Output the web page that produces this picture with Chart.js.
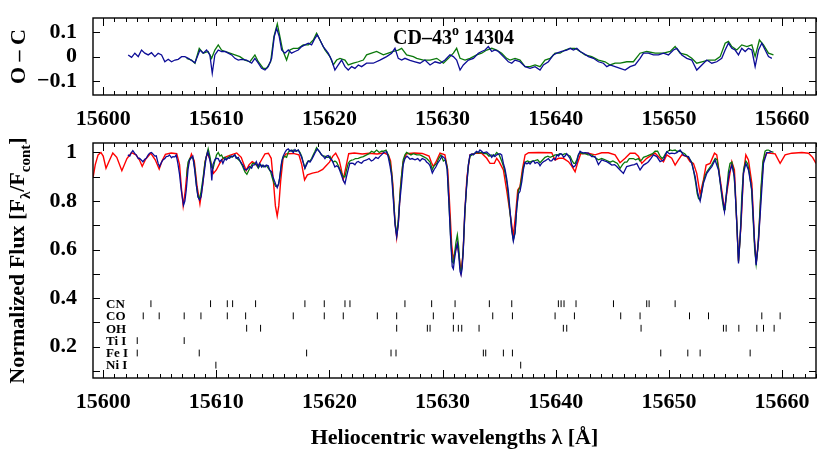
<!DOCTYPE html>
<html><head><meta charset="utf-8">
<script src="https://cdn.jsdelivr.net/npm/chart.js@4"></script>
<style>
html,body{margin:0;padding:0;background:#fff;}
#wrap{position:relative;width:830px;height:464px;overflow:hidden;}
canvas{position:absolute;left:0;}
</style></head><body>
<div id="wrap">
<canvas id="topChart" width="830" height="128" style="top:0"></canvas>
<canvas id="botChart" width="830" height="336" style="top:128px"></canvas>
</div>
<script>
// ---------------- data ----------------
const xTickValues = [15600, 15610, 15620, 15630, 15640, 15650, 15660];
const ocTickValues = [-0.1, 0, 0.1];
const fluxTickValues = [0.2, 0.4, 0.6, 0.8, 1.0];
const fluxMinorValues = [0.1, 0.2, 0.3, 0.4, 0.5, 0.6, 0.7, 0.8, 0.9, 1.0];

// synthetic model spectrum (red)  [wavelength, flux]
const modelSpectrum = [[15599.1,0.895],[15599.3,0.95],[15599.55,0.99],[15599.8,1.0],[15600.0,0.985],[15600.25,0.935],[15600.5,0.962],[15600.85,0.998],[15601.2,0.98],[15601.65,0.925],[15602.1,0.975],[15602.5,0.999],[15602.9,0.99],[15603.2,0.97],[15603.45,0.943],[15603.75,0.972],[15604.2,0.997],[15604.6,0.97],[15604.95,0.932],[15605.2,0.965],[15605.5,0.992],[15606.0,0.998],[15606.5,0.995],[15606.75,0.95],[15606.9,0.86],[15607.07,0.78],[15607.25,0.84],[15607.45,0.94],[15607.8,0.993],[15608.05,0.965],[15608.3,0.86],[15608.55,0.788],[15608.8,0.87],[15609.0,0.96],[15609.2,0.997],[15609.45,0.97],[15609.75,0.914],[15610.0,0.928],[15610.3,0.955],[15610.6,0.976],[15610.9,0.983],[15611.3,0.99],[15611.8,0.998],[15612.2,0.98],[15612.4,0.955],[15612.64,0.926],[15612.9,0.95],[15613.17,0.962],[15613.4,0.955],[15613.67,0.942],[15614.0,0.97],[15614.3,0.994],[15614.6,0.997],[15614.85,0.976],[15615.06,0.873],[15615.22,0.78],[15615.38,0.738],[15615.52,0.78],[15615.68,0.88],[15615.9,0.976],[15616.15,0.994],[15616.8,0.996],[15617.3,0.99],[15617.55,0.95],[15617.8,0.887],[15618.05,0.908],[15618.5,0.915],[15619.0,0.92],[15619.4,0.93],[15619.7,0.945],[15620.0,0.96],[15620.3,0.985],[15620.55,0.997],[15620.85,0.97],[15621.0,0.94],[15621.22,0.889],[15621.45,0.94],[15621.7,0.995],[15622.2,0.998],[15622.9,0.994],[15623.5,0.997],[15624.2,0.994],[15624.8,0.998],[15625.2,0.99],[15625.4,0.965],[15625.6,0.87],[15625.78,0.72],[15625.94,0.65],[15626.1,0.72],[15626.28,0.86],[15626.5,0.96],[15626.8,0.995],[15627.5,0.998],[15628.2,0.996],[15628.8,0.985],[15629.0,0.96],[15629.18,0.942],[15629.4,0.96],[15629.77,0.997],[15630.2,0.99],[15630.45,0.93],[15630.65,0.76],[15630.8,0.62],[15630.95,0.557],[15631.1,0.59],[15631.3,0.625],[15631.45,0.575],[15631.63,0.509],[15631.8,0.58],[15631.97,0.76],[15632.15,0.9],[15632.42,0.99],[15633.0,0.997],[15633.45,0.997],[15633.9,0.976],[15634.19,0.955],[15634.57,0.955],[15634.78,0.976],[15634.99,0.962],[15635.37,0.928],[15635.66,0.845],[15635.96,0.75],[15636.25,0.656],[15636.46,0.75],[15636.64,0.845],[15636.84,0.859],[15637.05,0.93],[15637.29,0.99],[15637.6,0.999],[15638.5,1.0],[15639.64,0.999],[15639.94,0.969],[15640.25,0.976],[15640.67,0.976],[15641.12,0.962],[15641.4,0.945],[15641.71,0.921],[15641.95,0.96],[15642.2,0.995],[15642.88,0.997],[15643.47,0.99],[15644.06,0.999],[15644.65,0.999],[15645.24,0.99],[15645.68,0.958],[15646.13,0.976],[15646.57,0.997],[15647.01,0.997],[15647.3,0.985],[15647.6,0.955],[15648.04,0.976],[15648.5,0.99],[15648.78,0.997],[15649.22,0.976],[15649.52,0.962],[15649.81,0.99],[15650.25,0.976],[15650.55,0.948],[15650.84,0.969],[15651.14,0.99],[15651.58,0.983],[15651.87,0.962],[15652.17,0.955],[15652.46,0.914],[15652.76,0.828],[15653.05,0.887],[15653.29,0.948],[15653.64,0.955],[15654.03,0.997],[15654.23,0.99],[15654.5,0.9],[15654.67,0.845],[15654.91,0.765],[15655.2,0.859],[15655.56,0.962],[15655.79,0.928],[15656.0,0.708],[15656.15,0.554],[15656.38,0.708],[15656.59,0.914],[15656.8,0.99],[15657.03,0.969],[15657.33,0.873],[15657.56,0.639],[15657.71,0.543],[15657.92,0.639],[15658.15,0.845],[15658.36,0.969],[15658.65,0.999],[15659.39,0.994],[15659.83,0.955],[15660.27,0.99],[15660.86,0.997],[15661.75,1.0],[15662.34,0.997],[15662.7,0.98],[15663.0,0.955]];

// observed spectrum 1 (blue)
const observedBlue = [[15602.18,0.990],[15602.35,0.985],[15602.48,0.999],[15602.62,1.008],[15602.80,0.995],[15602.92,0.990],[15603.10,0.975],[15603.21,0.976],[15603.39,0.968],[15603.51,0.962],[15603.68,0.972],[15603.80,0.976],[15603.98,0.99],[15604.10,0.997],[15604.27,1.0],[15604.39,0.994],[15604.57,0.985],[15604.69,0.986],[15604.86,0.955],[15604.98,0.942],[15605.16,0.96],[15605.28,0.969],[15605.45,0.975],[15605.57,0.983],[15605.75,0.985],[15605.86,0.990],[15606.04,0.978],[15606.16,0.983],[15606.34,0.982],[15606.45,0.99],[15606.60,0.955],[15606.75,0.91],[15606.90,0.845],[15607.10,0.783],[15607.22,0.80],[15607.34,0.845],[15607.50,0.93],[15607.63,0.969],[15607.81,0.98],[15607.92,0.985],[15608.08,0.93],[15608.22,0.87],[15608.37,0.818],[15608.52,0.804],[15608.66,0.818],[15608.80,0.87],[15608.96,0.928],[15609.10,0.98],[15609.25,1.003],[15609.40,0.975],[15609.50,0.95],[15609.60,0.885],[15609.70,0.95],[15609.87,0.97],[15609.99,0.976],[15610.17,0.975],[15610.29,0.962],[15610.46,0.97],[15610.58,0.955],[15610.76,0.975],[15610.88,0.969],[15611.05,0.978],[15611.17,0.976],[15611.35,0.985],[15611.46,0.983],[15611.64,0.99],[15611.76,0.976],[15611.94,0.98],[15612.05,0.969],[15612.23,0.955],[15612.35,0.948],[15612.50,0.93],[15612.64,0.928],[15612.80,0.935],[15612.94,0.942],[15613.12,0.935],[15613.23,0.948],[15613.41,0.95],[15613.53,0.962],[15613.71,0.94],[15613.82,0.955],[15614.00,0.94],[15614.12,0.948],[15614.30,0.94],[15614.41,0.948],[15614.59,0.945],[15614.71,0.928],[15614.89,0.92],[15615.00,0.900],[15615.12,0.885],[15615.24,0.870],[15615.38,0.855],[15615.50,0.87],[15615.59,0.893],[15615.77,0.96],[15615.89,0.983],[15616.06,1.0],[15616.20,1.01],[15616.36,1.015],[15616.50,1.005],[15616.65,1.01],[15616.80,1.0],[15616.95,1.012],[15617.10,1.005],[15617.24,1.01],[15617.40,0.995],[15617.54,0.98],[15617.70,0.955],[15617.83,0.935],[15617.98,0.95],[15618.13,0.965],[15618.28,0.96],[15618.42,0.97],[15618.58,0.985],[15618.72,0.998],[15618.92,1.015],[15619.05,1.008],[15619.16,1.0],[15619.30,0.99],[15619.45,0.985],[15619.60,0.975],[15619.75,0.985],[15619.89,0.987],[15620.05,0.975],[15620.19,0.97],[15620.35,0.955],[15620.48,0.94],[15620.62,0.945],[15620.78,0.94],[15620.92,0.925],[15621.07,0.905],[15621.22,0.885],[15621.37,0.872],[15621.50,0.90],[15621.66,0.93],[15621.80,0.955],[15621.96,0.956],[15622.10,0.955],[15622.25,0.949],[15622.40,0.96],[15622.55,0.963],[15622.70,0.958],[15622.84,0.956],[15623.00,0.965],[15623.28,0.969],[15623.50,0.975],[15623.70,0.965],[15623.87,0.969],[15624.10,0.98],[15624.30,0.975],[15624.46,0.984],[15624.60,0.99],[15624.80,1.0],[15625.05,1.003],[15625.20,0.98],[15625.35,0.945],[15625.50,0.90],[15625.65,0.80],[15625.80,0.70],[15625.94,0.653],[15626.08,0.70],[15626.20,0.79],[15626.38,0.876],[15626.52,0.95],[15626.67,0.975],[15626.85,0.985],[15627.00,0.978],[15627.12,0.972],[15627.30,0.975],[15627.56,0.97],[15627.80,0.975],[15628.00,0.965],[15628.20,0.975],[15628.44,0.97],[15628.60,0.96],[15628.75,0.955],[15628.89,0.945],[15629.09,0.915],[15629.25,0.93],[15629.40,0.94],[15629.55,0.955],[15629.77,0.97],[15629.95,0.985],[15630.21,0.975],[15630.40,0.93],[15630.55,0.8],[15630.70,0.65],[15630.85,0.53],[15630.95,0.52],[15631.05,0.56],[15631.18,0.6],[15631.30,0.625],[15631.42,0.58],[15631.54,0.51],[15631.63,0.495],[15631.72,0.52],[15631.83,0.6],[15631.95,0.75],[15632.10,0.85],[15632.28,0.95],[15632.42,0.99],[15632.60,0.995],[15632.72,0.99],[15632.90,1.0],[15633.00,1.005],[15633.16,1.0],[15633.30,1.01],[15633.45,1.005],[15633.60,0.998],[15633.75,1.0],[15633.90,1.002],[15634.04,0.996],[15634.20,0.99],[15634.34,0.98],[15634.50,0.99],[15634.63,0.983],[15634.78,0.99],[15634.93,0.993],[15635.07,0.995],[15635.22,0.99],[15635.37,0.955],[15635.52,0.93],[15635.67,0.89],[15635.81,0.84],[15635.96,0.76],[15636.11,0.68],[15636.25,0.635],[15636.40,0.67],[15636.55,0.77],[15636.70,0.83],[15636.84,0.84],[15637.00,0.88],[15637.14,0.93],[15637.29,0.96],[15637.45,0.953],[15637.60,0.958],[15637.73,0.952],[15637.90,0.962],[15638.05,0.965],[15638.17,0.955],[15638.35,0.96],[15638.50,0.955],[15638.61,0.945],[15638.75,0.955],[15638.91,0.962],[15639.05,0.965],[15639.20,0.97],[15639.35,0.975],[15639.50,0.965],[15639.64,0.965],[15639.79,0.975],[15639.95,0.97],[15640.09,0.99],[15640.25,0.985],[15640.38,0.995],[15640.53,0.993],[15640.70,0.98],[15640.82,0.985],[15640.97,0.995],[15641.12,0.985],[15641.27,0.975],[15641.42,0.95],[15641.56,0.94],[15641.71,0.945],[15641.86,0.96],[15642.00,0.99],[15642.15,1.005],[15642.30,1.0],[15642.44,0.998],[15642.59,0.999],[15642.88,0.997],[15643.18,0.983],[15643.47,0.983],[15643.77,0.95],[15644.06,0.969],[15644.30,0.965],[15644.50,0.962],[15644.75,0.955],[15644.95,0.948],[15645.20,0.95],[15645.39,0.942],[15645.68,0.928],[15645.98,0.914],[15646.27,0.942],[15646.50,0.945],[15646.72,0.948],[15646.95,0.95],[15647.16,0.955],[15647.45,0.928],[15647.75,0.948],[15648.00,0.955],[15648.19,0.962],[15648.40,0.975],[15648.63,0.99],[15648.93,0.983],[15649.22,0.962],[15649.52,0.969],[15649.81,1.003],[15650.05,0.995],[15650.25,0.997],[15650.50,0.995],[15650.70,0.999],[15650.99,1.01],[15651.28,0.99],[15651.50,0.985],[15651.73,0.983],[15652.02,0.955],[15652.32,0.9],[15652.55,0.832],[15652.76,0.80],[15653.05,0.873],[15653.35,0.914],[15653.60,0.93],[15653.79,0.942],[15654.08,0.969],[15654.38,0.928],[15654.67,0.832],[15654.91,0.756],[15655.12,0.845],[15655.32,0.914],[15655.56,0.948],[15655.79,0.9],[15656.00,0.708],[15656.15,0.543],[15656.35,0.694],[15656.59,0.914],[15656.80,0.955],[15657.03,0.928],[15657.33,0.845],[15657.56,0.639],[15657.71,0.536],[15657.92,0.639],[15658.15,0.804],[15658.36,0.955],[15658.65,0.999],[15658.85,1.0],[15659.09,1.003]];

// observed spectrum 2 (green)
const observedGreen = [[15607.37,0.90],[15607.50,0.96],[15607.65,0.975],[15607.81,0.98],[15607.95,0.975],[15608.11,0.93],[15608.25,0.86],[15608.40,0.815],[15608.49,0.81],[15608.62,0.83],[15608.84,0.9],[15609.00,0.96],[15609.15,0.99],[15609.28,1.015],[15609.45,0.98],[15609.58,0.94],[15609.72,0.935],[15609.87,0.965],[15610.02,0.99],[15610.17,1.0],[15610.32,0.985],[15610.46,0.99],[15610.61,0.975],[15610.76,0.98],[15610.95,0.975],[15611.20,0.985],[15611.40,0.98],[15611.64,0.99],[15611.85,0.975],[15612.08,0.965],[15612.30,0.945],[15612.53,0.92],[15612.70,0.91],[15612.85,0.925],[15612.97,0.935],[15613.20,0.955],[15613.41,0.955],[15613.55,0.95],[15613.71,0.935],[15613.90,0.95],[15614.15,0.94],[15614.30,0.945],[15614.44,0.945],[15614.60,0.935],[15614.80,0.92],[15614.95,0.895],[15615.09,0.875],[15615.25,0.86],[15615.39,0.86],[15615.50,0.87],[15615.62,0.9],[15615.75,0.95],[15615.86,0.975],[15616.00,0.985],[15616.21,0.98],[15616.35,1.0],[15616.50,1.01],[15616.65,1.005],[15616.80,1.01],[15617.00,1.005],[15617.24,1.01],[15617.40,1.0],[15617.54,0.985],[15617.68,0.96],[15617.83,0.935],[15617.98,0.955],[15618.13,0.965],[15618.28,0.965],[15618.42,0.975],[15618.57,0.99],[15618.72,1.005],[15618.86,1.02],[15619.00,1.01],[15619.16,1.0],[15619.30,0.99],[15619.45,0.985],[15619.60,0.985],[15619.75,0.98],[15619.89,0.98],[15620.04,0.985],[15620.19,0.97],[15620.34,0.96],[15620.48,0.965],[15620.63,0.96],[15620.78,0.945],[15620.93,0.93],[15621.07,0.915],[15621.22,0.9],[15621.37,0.9],[15621.52,0.93],[15621.66,0.955],[15621.81,0.965],[15621.96,0.968],[15622.11,0.97],[15622.30,0.975],[15622.55,0.976],[15622.75,0.98],[15622.99,0.983],[15623.28,0.99],[15623.50,0.995],[15623.72,1.005],[15623.95,1.0],[15624.17,1.01],[15624.40,1.0],[15624.60,1.005],[15624.76,1.005],[15625.00,1.01],[15625.20,0.99],[15625.35,0.96],[15625.50,0.915],[15625.65,0.82],[15625.80,0.71],[15625.94,0.66],[15626.08,0.72],[15626.22,0.82],[15626.38,0.91],[15626.52,0.97],[15626.67,0.99],[15626.82,1.0],[15627.00,0.995],[15627.20,0.99],[15627.41,0.995],[15627.71,0.99],[15628.00,0.99],[15628.30,0.983],[15628.60,0.975],[15628.89,0.96],[15629.09,0.93],[15629.25,0.945],[15629.48,0.955],[15629.65,0.975],[15629.85,0.99],[15630.07,0.965],[15630.25,0.97],[15630.40,0.94],[15630.55,0.8],[15630.70,0.66],[15630.85,0.55],[15630.95,0.545],[15631.05,0.58],[15631.18,0.63],[15631.30,0.66],[15631.42,0.61],[15631.54,0.525],[15631.63,0.51],[15631.72,0.53],[15631.83,0.61],[15631.98,0.76],[15632.12,0.86],[15632.28,0.95],[15632.42,0.985],[15632.60,0.99],[15632.80,0.995],[15633.01,1.0],[15633.20,0.998],[15633.45,1.0],[15633.65,0.995],[15633.90,0.995],[15634.10,0.985],[15634.34,0.99],[15634.55,0.985],[15634.78,1.0],[15635.00,0.99],[15635.22,0.965],[15635.40,0.94],[15635.55,0.91],[15635.70,0.87],[15635.85,0.8],[15635.96,0.75],[15636.11,0.68],[15636.25,0.64],[15636.40,0.67],[15636.55,0.77],[15636.70,0.845],[15636.84,0.855],[15637.00,0.9],[15637.14,0.94],[15637.29,0.96],[15637.50,0.965],[15637.73,0.96],[15637.95,0.965],[15638.17,0.966],[15638.40,0.97],[15638.61,0.958],[15638.85,0.97],[15639.05,0.98],[15639.30,0.985],[15639.50,0.98],[15639.75,0.985],[15639.94,0.99],[15640.15,0.99],[15640.38,0.995],[15640.60,0.99],[15640.82,0.995],[15641.05,0.99],[15641.27,0.985],[15641.45,0.965],[15641.60,0.955],[15641.71,0.955],[15641.86,0.97],[15642.00,0.99],[15642.15,1.0],[15642.35,0.995],[15642.59,0.995],[15642.85,0.99],[15643.18,0.99],[15643.45,0.98],[15643.77,0.97],[15644.06,0.975],[15644.36,0.97],[15644.60,0.965],[15644.80,0.96],[15645.05,0.965],[15645.24,0.96],[15645.45,0.955],[15645.69,0.935],[15645.90,0.95],[15646.10,0.96],[15646.28,0.96],[15646.50,0.975],[15646.70,0.975],[15646.86,0.975],[15647.05,0.97],[15647.30,0.975],[15647.45,0.965],[15647.60,0.97],[15647.75,0.98],[15648.04,0.985],[15648.30,0.99],[15648.55,0.995],[15648.78,1.005],[15649.00,1.005],[15649.22,0.985],[15649.40,0.975],[15649.52,0.98],[15649.70,0.995],[15649.90,1.005],[15650.11,1.01],[15650.30,1.008],[15650.55,1.01],[15650.70,1.005],[15650.99,1.005],[15651.20,1.0],[15651.40,0.995],[15651.58,0.985],[15651.80,0.975],[15652.02,0.96],[15652.20,0.92],[15652.35,0.88],[15652.50,0.83],[15652.62,0.81],[15652.76,0.805],[15652.90,0.84],[15653.05,0.88],[15653.20,0.905],[15653.35,0.92],[15653.50,0.93],[15653.79,0.95],[15654.09,0.975],[15654.25,0.97],[15654.40,0.93],[15654.55,0.87],[15654.70,0.81],[15654.85,0.765],[15654.97,0.765],[15655.10,0.84],[15655.26,0.92],[15655.40,0.955],[15655.56,0.96],[15655.70,0.93],[15655.85,0.85],[15656.00,0.71],[15656.15,0.55],[15656.30,0.65],[15656.44,0.82],[15656.60,0.93],[15656.80,0.965],[15656.95,0.955],[15657.10,0.92],[15657.30,0.85],[15657.45,0.72],[15657.58,0.6],[15657.71,0.54],[15657.85,0.6],[15658.00,0.72],[15658.15,0.86],[15658.30,0.96],[15658.50,1.005],[15658.65,1.01],[15658.80,1.01],[15659.00,1.005],[15659.24,1.0]];

// observed minus computed residuals
const residualBlue = [[15602.21,0.007],[15602.51,-0.003],[15602.80,0.014],[15603.10,0],[15603.39,0.027],[15603.68,0.014],[15603.98,0.007],[15604.27,0.016],[15604.57,0],[15604.86,0.014],[15605.16,0.007],[15605.45,-0.021],[15605.75,-0.011],[15606.04,-0.021],[15606.34,-0.014],[15606.63,-0.011],[15606.93,0],[15607.22,0],[15607.52,-0.007],[15607.81,-0.016],[15608.11,-0.025],[15608.55,0.027],[15608.84,0.014],[15609.14,0.027],[15609.43,0.007],[15609.64,-0.068],[15609.87,0.007],[15610.17,0.027],[15610.46,0.021],[15610.76,0.021],[15611.05,0.014],[15611.35,0.007],[15611.64,-0.007],[15611.94,-0.014],[15612.23,-0.011],[15612.67,-0.014],[15613.12,-0.027],[15613.41,-0.007],[15613.71,-0.027],[15614.00,-0.048],[15614.30,-0.055],[15614.59,-0.041],[15614.89,-0.007],[15615.12,0.082],[15615.33,0.116],[15615.56,0.082],[15615.77,0.027],[15616.06,0.014],[15616.36,0.027],[15616.65,0.014],[15616.95,0.021],[15617.24,0.027],[15617.54,0.041],[15617.83,0.048],[15618.13,0.055],[15618.42,0.048],[15618.72,0.075],[15618.92,0.089],[15619.16,0.068],[15619.45,0.041],[15619.89,0.014],[15620.19,-0.014],[15620.48,-0.055],[15620.78,-0.034],[15621.07,-0.014],[15621.37,-0.041],[15621.66,-0.055],[15621.96,-0.041],[15622.25,-0.048],[15622.55,-0.034],[15622.84,-0.041],[15623.28,-0.027],[15623.87,-0.027],[15624.46,-0.014],[15625.05,0],[15625.49,0.014],[15625.79,0.034],[15626.08,-0.007],[15626.38,-0.014],[15626.67,-0.007],[15627.12,-0.015],[15627.56,-0.021],[15628.00,-0.027],[15628.44,-0.014],[15628.89,-0.034],[15629.33,-0.021],[15629.77,-0.027],[15630.21,-0.014],[15630.65,0.007],[15630.95,0],[15631.24,-0.014],[15631.54,-0.055],[15631.83,-0.034],[15632.28,-0.014],[15632.72,-0.007],[15633.16,0.014],[15633.45,0.021],[15633.75,0.027],[15634.04,0.041],[15634.34,0.021],[15634.63,0.027],[15634.93,0.021],[15635.37,0],[15635.81,-0.021],[15636.11,-0.027],[15636.40,-0.014],[15636.84,-0.021],[15637.29,-0.041],[15637.73,-0.048],[15638.17,-0.041],[15638.61,-0.055],[15638.91,-0.034],[15639.35,-0.021],[15639.79,0.007],[15640.09,0.014],[15640.53,0.021],[15640.97,0.027],[15641.27,0.034],[15641.56,0.027],[15641.86,0.034],[15642.15,0.021],[15642.44,0.014],[15642.89,0],[15643.33,-0.007],[15643.77,-0.021],[15644.21,-0.027],[15644.51,-0.041],[15644.80,-0.034],[15645.24,-0.041],[15645.69,-0.048],[15646.13,-0.055],[15646.57,-0.041],[15647.01,-0.034],[15647.45,-0.007],[15647.75,0.014],[15648.19,0.014],[15648.63,0.007],[15649.08,0.007],[15649.52,0.014],[15649.96,0.007],[15650.40,0.027],[15650.70,0.034],[15651.14,0.007],[15651.58,-0.007],[15652.02,-0.014],[15652.46,-0.055],[15652.91,-0.034],[15653.35,-0.014],[15653.79,-0.027],[15654.23,-0.021],[15654.67,-0.007],[15654.97,0.027],[15655.26,0.055],[15655.56,0.034],[15655.85,0.027],[15656.15,0.007],[15656.44,0.034],[15656.74,0.021],[15657.03,0.034],[15657.33,0.027],[15657.62,-0.041],[15657.92,0.027],[15658.21,0.055],[15658.51,0.027],[15658.80,0],[15659.10,-0.007]];

const residualGreen = [[15607.37,-0.007],[15607.81,-0.014],[15608.11,-0.027],[15608.49,0.034],[15608.84,0.014],[15609.28,0.021],[15609.58,-0.007],[15609.87,0.027],[15610.17,0.048],[15610.46,0.027],[15610.76,0.021],[15611.20,0.014],[15611.64,0.007],[15612.08,0],[15612.53,-0.014],[15612.97,-0.021],[15613.41,0.007],[15613.71,-0.021],[15614.15,-0.048],[15614.44,-0.048],[15614.80,-0.021],[15615.09,0.082],[15615.39,0.134],[15615.62,0.082],[15615.86,0.027],[15616.21,-0.014],[15616.50,0.027],[15616.80,0.034],[15617.24,0.034],[15617.68,0.048],[15618.13,0.048],[15618.57,0.068],[15618.86,0.096],[15619.16,0.068],[15619.60,0.027],[15620.04,0],[15620.34,-0.034],[15620.63,-0.014],[15620.93,-0.007],[15621.37,-0.014],[15621.66,-0.034],[15622.11,-0.027],[15622.55,-0.021],[15622.99,-0.014],[15623.28,0.007],[15623.72,0.014],[15624.17,0.021],[15624.76,0.007],[15625.20,0.014],[15625.64,0.021],[15626.08,0.027],[15626.38,0.034],[15626.82,0.007],[15627.41,0],[15627.71,-0.007],[15628.30,-0.014],[15628.89,-0.014],[15629.48,-0.007],[15630.07,-0.027],[15630.51,-0.007],[15630.95,0.014],[15631.24,0.034],[15631.54,-0.007],[15631.98,-0.014],[15632.42,-0.007],[15633.01,0.007],[15633.45,0.014],[15633.90,0.027],[15634.34,0.034],[15634.78,0.027],[15635.22,0.014],[15635.66,-0.007],[15635.96,-0.014],[15636.40,-0.007],[15636.84,-0.014],[15637.29,-0.041],[15637.73,-0.041],[15638.17,-0.034],[15638.61,-0.041],[15639.05,-0.014],[15639.50,-0.007],[15639.94,0.014],[15640.38,0.014],[15640.82,0.027],[15641.27,0.034],[15641.71,0.034],[15642.15,0.021],[15642.59,0.007],[15643.18,0],[15643.77,-0.014],[15644.36,-0.021],[15644.80,-0.034],[15645.24,-0.027],[15645.69,-0.027],[15646.28,-0.021],[15646.86,-0.021],[15647.45,0.014],[15648.04,0.021],[15648.78,0.014],[15649.52,0.014],[15650.11,0.021],[15650.55,0.041],[15650.99,0.014],[15651.58,0.007],[15652.02,-0.007],[15652.46,-0.027],[15652.91,-0.021],[15653.50,-0.014],[15654.09,-0.014],[15654.53,0],[15654.97,0.055],[15655.26,0.062],[15655.56,0.041],[15656.00,0.027],[15656.44,0.048],[15656.89,0.041],[15657.33,0.048],[15657.62,0],[15658.00,0.068],[15658.36,0.048],[15658.80,0.014],[15659.24,0.007]];

// line identifications
const speciesNames = ['CN', 'CO', 'OH', 'Ti I', 'Fe I', 'Ni I'];
const speciesLevels = [0.377, 0.327, 0.276, 0.225, 0.174, 0.124];
const cnLines = [15604.22,15609.49,15610.97,15611.44,15613.47,15617.83,15619.54,15621.37,15621.81,15626.67,15629.03,15631.1,15634.13,15636.11,15640.23,15640.47,15640.73,15641.79,15645.10,15648.04,15648.25,15650.55];
const coLines = [15603.54,15604.95,15607.16,15608.64,15610.97,15612.59,15616.80,15619.54,15621.22,15624.23,15625.94,15629.18,15630.95,15634.43,15636.17,15639.94,15641.65,15645.74,15647.45,15651.82,15653.50,15658.21,15659.83];
const ohLines = [15612.68,15613.91,15625.94,15628.65,15628.89,15630.95,15631.39,15631.69,15633.22,15640.67,15640.97,15647.54,15654.82,15655.06,15656.18,15657.77,15658.36,15659.30];
const tiLines = [15603.01,15607.16];
const feLines = [15603.01,15608.49,15617.98,15625.44,15625.88,15633.60,15633.81,15635.37,15636.17,15649.28,15651.67,15652.76,15657.18];
const niLines = [15609.96,15636.90];
const speciesLines = [cnLines, coLines, ohLines, tiLines, feLines, niLines];

// ---------------- drawing ----------------
const FONT = "'Liberation Serif','Times New Roman',serif";
const X_MIN = 15599.1, X_MAX = 15663.0;
const BLUE = '#0c0c96', GREEN = '#0a780a', RED = '#ff0000';
const toXY = arr => arr.map(p => ({x: p[0], y: p[1]}));

function drawRich(ctx, parts, x, y, size, align, angle) {
  ctx.save();
  ctx.translate(x, y);
  if (angle) ctx.rotate(angle);
  const big = 'bold ' + size + 'px ' + FONT;
  const small = 'bold ' + Math.round(size * 0.68) + 'px ' + FONT;
  const widths = [];
  let total = 0;
  for (const [t, k] of parts) { ctx.font = k ? small : big; const w = ctx.measureText(t).width; widths.push(w); total += w; }
  let cx = align === 'center' ? -total / 2 : 0;
  ctx.textAlign = 'left'; ctx.textBaseline = 'alphabetic'; ctx.fillStyle = '#000';
  parts.forEach(([t, k], i) => {
    ctx.font = k ? small : big;
    const dy = k === 1 ? size * 0.27 : (k === 2 ? -size * 0.45 : 0);
    ctx.fillText(t, cx, dy);
    cx += widths[i];
  });
  ctx.restore();
}

const framePlugin = {
  id: 'panelFrame',
  afterDatasetsDraw(chart, args, opts) {
    const {ctx, chartArea: a} = chart;
    const xs = chart.scales.x, ys = chart.scales.y;
    ctx.save();
    ctx.strokeStyle = '#000';
    ctx.lineWidth = 1;
    ctx.beginPath();
    for (let v = Math.ceil(xs.min); v <= xs.max; v += 1) {
      const p = Math.round(xs.getPixelForValue(v)) + 0.5;
      const len = (v % 10 === 0) ? 8 : 4;
      ctx.moveTo(p, a.bottom); ctx.lineTo(p, a.bottom - len);
      ctx.moveTo(p, a.top); ctx.lineTo(p, a.top + len);
    }
    for (const v of opts.yMarks) {
      const p = Math.round(ys.getPixelForValue(v)) + 0.5;
      ctx.moveTo(a.left, p); ctx.lineTo(a.left + 7, p);
      ctx.moveTo(a.right, p); ctx.lineTo(a.right - 7, p);
    }
    ctx.stroke();
    ctx.lineWidth = 1.4;
    ctx.strokeRect(a.left, a.top, a.right - a.left, a.bottom - a.top);
    ctx.restore();
  }
};

function noPad(s) { s.paddingTop = 0; s.paddingBottom = 0; s.paddingLeft = 0; s.paddingRight = 0; }

function axisConfig(yMin, yMax, yTicks, yFmt, xHeight) {
  return {
    x: {
      type: 'linear', min: X_MIN, max: X_MAX,
      afterBuildTicks: s => { s.ticks = xTickValues.map(v => ({value: v})); },
      afterFit: s => { s.height = xHeight; noPad(s); },
      grid: {display: false, drawTicks: false}, border: {display: false},
      ticks: {font: {family: FONT, size: 22, weight: 'bold'}, color: '#000', padding: 11,
              maxRotation: 0, minRotation: 0, autoSkip: false, callback: v => String(v)}
    },
    y: {
      type: 'linear', min: yMin, max: yMax,
      afterBuildTicks: s => { s.ticks = yTicks.map(v => ({value: v})); },
      afterFit: s => { s.width = 93; noPad(s); },
      grid: {display: false, drawTicks: false}, border: {display: false},
      ticks: {font: {family: FONT, size: 22, weight: 'bold'}, color: '#000', padding: 16,
              autoSkip: false, callback: yFmt}
    }
  };
}

const baseOpts = {
  responsive: false, animation: false, events: [],
  plugins: {legend: {display: false}, tooltip: {enabled: false}}
};

// ---- top panel: O - C ----
new Chart(document.getElementById('topChart'), {
  type: 'scatter',
  data: {datasets: [
    {data: toXY(residualBlue), showLine: true, borderColor: BLUE, borderWidth: 1.3, pointRadius: 0},
    {data: toXY(residualGreen), showLine: true, borderColor: GREEN, borderWidth: 1.3, pointRadius: 0}
  ]},
  options: Object.assign({}, baseOpts, {
    layout: {padding: {top: 18, right: 14, left: 0, bottom: 0}},
    scales: axisConfig(-0.157, 0.158, ocTickValues,
      v => v === 0 ? '0' : (v < 0 ? '\u2212' + Math.abs(v) : String(v)), 33),
    plugins: {legend: {display: false}, tooltip: {enabled: false}, panelFrame: {yMarks: ocTickValues}}
  }),
  plugins: [framePlugin, {
    id: 'topText',
    afterDraw(chart) {
      const ctx = chart.ctx, a = chart.chartArea;
      drawRich(ctx, [['O \u2013 C', 0]], 25, (a.top + a.bottom) / 2, 22, 'center', -Math.PI / 2);
      drawRich(ctx, [['CD\u201343', 0], ['o', 2], [' 14304', 0]], 393, 44, 20, 'left', 0);
    }
  }]
});

// ---- bottom panel: spectra ----
const markerSets = speciesLines.map((lines, i) => ({
  data: lines.map(v => ({x: v, y: speciesLevels[i]})),
  showLine: false, pointStyle: 'line', rotation: 90, pointRadius: 3.4,
  borderColor: '#000', borderWidth: 1, pointHoverRadius: 0
}));

new Chart(document.getElementById('botChart'), {
  type: 'scatter',
  data: {datasets: [
    {data: toXY(observedBlue), showLine: true, borderColor: BLUE, borderWidth: 1.3, pointRadius: 0},
    {data: toXY(observedGreen), showLine: true, borderColor: GREEN, borderWidth: 1.3, pointRadius: 0},
    {data: toXY(modelSpectrum), showLine: true, borderColor: RED, borderWidth: 1.4, pointRadius: 0},
    ...markerSets
  ]},
  options: Object.assign({}, baseOpts, {
    layout: {padding: {top: 15, right: 14, left: 0, bottom: 0}},
    scales: axisConfig(0.071, 1.039, fluxTickValues, v => v === 1 ? '1' : v.toFixed(1), 86),
    plugins: {legend: {display: false}, tooltip: {enabled: false}, panelFrame: {yMarks: fluxMinorValues}}
  }),
  plugins: [framePlugin, {
    id: 'botText',
    afterDraw(chart) {
      const ctx = chart.ctx, a = chart.chartArea, ys = chart.scales.y;
      drawRich(ctx, [['Normalized Flux [F', 0], ['\u03bb', 1], ['/F', 0], ['cont', 1], [']', 0]],
               24, (a.top + a.bottom) / 2, 22, 'center', -Math.PI / 2);
      drawRich(ctx, [['Heliocentric wavelengths \u03bb [\u00c5]', 0]], (a.left + a.right) / 2, 316, 22, 'center', 0);
      ctx.save();
      ctx.font = 'bold 13px ' + FONT;
      ctx.fillStyle = '#000'; ctx.textAlign = 'left'; ctx.textBaseline = 'middle';
      speciesNames.forEach((n, i) => ctx.fillText(n, 106, ys.getPixelForValue(speciesLevels[i]) + 1));
      ctx.restore();
    }
  }]
});
</script>
</body></html>
